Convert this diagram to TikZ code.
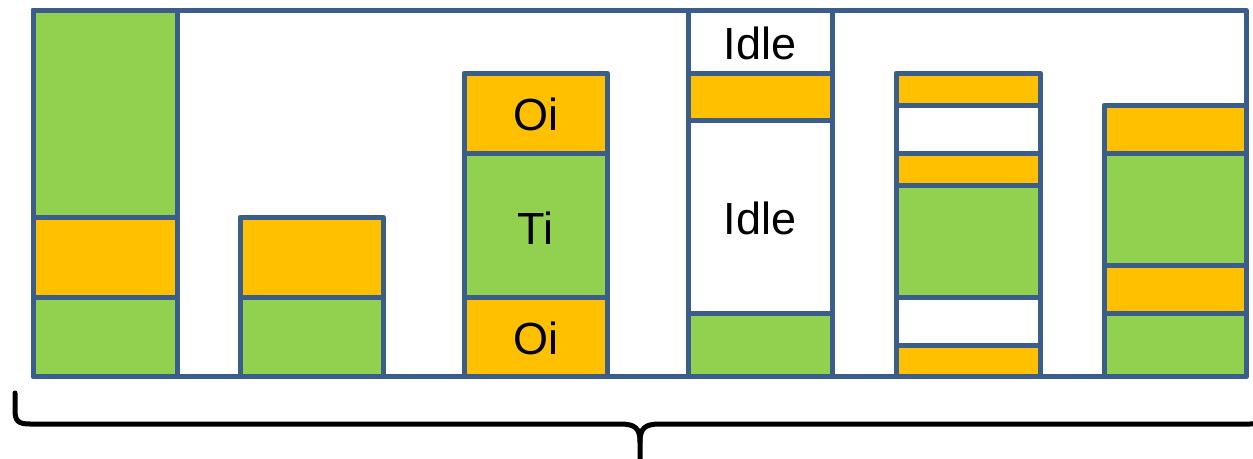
\documentclass[tikz,border=0pt]{standalone}
\usepackage{fontspec}
\setmainfont{Liberation Sans}
\definecolor{edge}{HTML}{3A5D8C}
\definecolor{task}{HTML}{92D050}
\definecolor{ovh}{HTML}{FFC000}
\begin{document}
\begin{tikzpicture}[x=1pt,y=-1pt,line join=round,
  cell/.style={draw=edge,line width=5pt},
  lbl/.style={font=\fontsize{45}{54}\selectfont,inner sep=0pt,text=black},
  brace/.style={draw=black,line width=5pt,line cap=round}]
\useasboundingbox (0,0) rectangle (1253,458);
\clip (0,0) rectangle (1253,458);

% outer frame
\draw[cell] (33,10) rectangle (1246,376);

% column 1
\draw[cell,fill=task] (33,10)  rectangle (177,217);
\draw[cell,fill=ovh]  (33,217) rectangle (177,297);
\draw[cell,fill=task] (33,297) rectangle (177,376);

% column 2
\draw[cell,fill=ovh]  (240,217) rectangle (383,297);
\draw[cell,fill=task] (240,297) rectangle (383,376);

% column 3
\draw[cell,fill=ovh]  (464,73)  rectangle (607,153);
\draw[cell,fill=task] (464,153) rectangle (607,297);
\draw[cell,fill=ovh]  (464,297) rectangle (607,376);
\node[lbl] (oiTop) at (535.5,114) {Oi};
\node[lbl] (ti)    at (535.5,228) {Ti};
\node[lbl] (oiBot) at (535.5,338) {Oi};

% column 4
\draw[cell,fill=white] (688,10)  rectangle (832,73);
\draw[cell,fill=ovh]   (688,73)  rectangle (832,120);
\draw[cell,fill=white] (688,120) rectangle (832,313);
\draw[cell,fill=task]  (688,313) rectangle (832,376);
\node[lbl] (idleTop) at (760,43)  {Idle};
\node[lbl] (idleMid) at (760,218) {Idle};

% column 5
\draw[cell,fill=ovh]   (896,73)  rectangle (1040,105);
\draw[cell,fill=white] (896,105) rectangle (1040,153);
\draw[cell,fill=ovh]   (896,153) rectangle (1040,185);
\draw[cell,fill=task]  (896,185) rectangle (1040,297);
\draw[cell,fill=white] (896,297) rectangle (1040,345);
\draw[cell,fill=ovh]   (896,345) rectangle (1040,376);

% column 6
\draw[cell,fill=ovh]  (1104,105) rectangle (1246,153);
\draw[cell,fill=task] (1104,153) rectangle (1246,265);
\draw[cell,fill=ovh]  (1104,265) rectangle (1246,313);
\draw[cell,fill=task] (1104,313) rectangle (1246,376);

% brace under the columns
\draw[brace] (15,393) -- (15,410) .. controls (15,421) and (18,424) .. (30,424)
  -- (620,424) .. controls (635,424) and (640,428) .. (640,442) -- (640,470);
\draw[brace] (1265,393) -- (1265,410) .. controls (1265,421) and (1262,424) .. (1250,424)
  -- (660,424) .. controls (645,424) and (640,428) .. (640,442);
\end{tikzpicture}
\end{document}
